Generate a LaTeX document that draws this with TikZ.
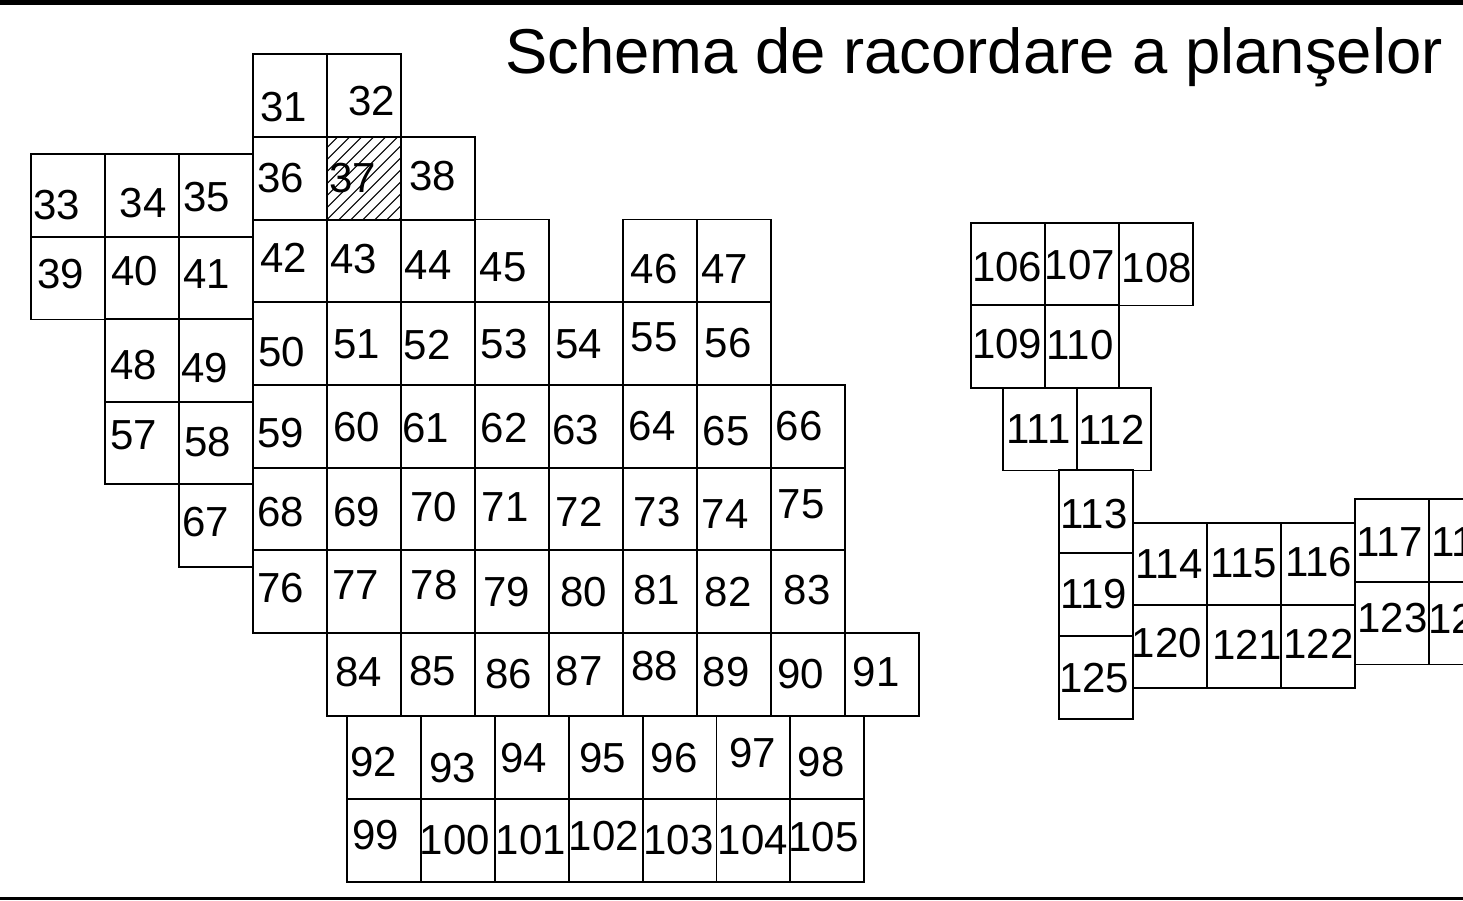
\documentclass[tikz,border=0pt]{standalone}
\usepackage{fontspec}
\setmainfont{Liberation Sans}
\newcommand\plansa[5]{%
  \node[cellbox] (c#1) at (#2,#3) {};
  \node[numtxt] (n#1) at (#4,#5) {#1};}
\begin{document}
\begin{tikzpicture}[x=1pt,y=-1pt,
  cellbox/.style={draw, line width=1.8pt, anchor=north west, minimum width=74pt,
    minimum height=82.7pt, inner sep=0pt, outer sep=0pt},
  numtxt/.style={inner sep=0pt, font=\fontsize{42}{42}\selectfont},
  titletxt/.style={inner sep=0pt, font=\fontsize{63.4}{64}\selectfont},
  rule/.style={line width=#1}]
\useasboundingbox (0,0) rectangle (1463,900);
\clip (0,0) rectangle (1463,900);
% frame lines
\coordinate (tl) at (0,2.5); \coordinate (tr) at (1463,2.5);
\coordinate (bl) at (0,898.5); \coordinate (br) at (1463,898.5);
\draw[rule=5pt] (tl) -- (tr);
\draw[rule=2.5pt] (bl) -- (br);
% title
\node[titletxt, anchor=base west] (title) at (505,73) {Schema de racordare a planşelor};
% ---- left group ----
\plansa{31}{253}{54}{284}{106.7}
\plansa{32}{327}{54}{372}{101.3}
\plansa{36}{253}{137}{281}{178}
\plansa{37}{327}{137}{353}{178}
\plansa{38}{401}{137}{433}{176}
\plansa{33}{31}{154}{57}{205}
\plansa{34}{105}{154}{143.3}{203}
\plansa{35}{179}{154}{207}{197}
\plansa{39}{31}{236.7}{60.5}{274}
\plansa{40}{105}{236.7}{135}{271}
\plansa{41}{179}{236.7}{206.5}{274.5}
\plansa{42}{253}{219.5}{284}{258}
\plansa{43}{327}{219.5}{353.5}{259}
\plansa{44}{401}{219.5}{428}{265}
\plansa{45}{475}{219.5}{503}{267.5}
\plansa{46}{623}{219.5}{654}{269}
\plansa{47}{697}{219.5}{724.5}{269}
\plansa{48}{105}{319}{133.5}{365}
\plansa{49}{179}{319}{204.7}{368}
\plansa{50}{253}{302.3}{282}{351.7}
\plansa{51}{327}{302.3}{357}{344}
\plansa{52}{401}{302.3}{427}{345}
\plansa{53}{475}{302.3}{504}{344}
\plansa{54}{549}{302.3}{578.7}{344.7}
\plansa{55}{623}{302.3}{654}{337.5}
\plansa{56}{697}{302.3}{728}{343}
\plansa{57}{105}{401.5}{133.8}{435.7}
\plansa{58}{179}{401.5}{207.5}{441.7}
\plansa{59}{253}{385}{281}{433}
\plansa{60}{327}{385}{356.7}{427}
\plansa{61}{401}{385}{426}{428}
\plansa{62}{475}{385}{504}{428}
\plansa{63}{549}{385}{575.8}{430}
\plansa{64}{623}{385}{652}{426}
\plansa{65}{697}{385}{726}{431.5}
\plansa{66}{771}{385}{799}{426}
\plansa{67}{179}{484}{206}{522}
\plansa{68}{253}{467.5}{281}{512}
\plansa{69}{327}{467.5}{357}{511.7}
\plansa{70}{401}{467.5}{433.7}{506.7}
\plansa{71}{475}{467.5}{505}{507}
\plansa{72}{549}{467.5}{579}{511.7}
\plansa{73}{623}{467.5}{657}{511.7}
\plansa{74}{697}{467.5}{725}{514.5}
\plansa{75}{771}{467.5}{801}{504}
\plansa{76}{253}{550.3}{281}{588}
\plansa{77}{327}{550.3}{356}{585}
\plansa{78}{401}{550.3}{434}{584.7}
\plansa{79}{475}{550.3}{506.6}{591.7}
\plansa{80}{549}{550.3}{583.5}{591.7}
\plansa{81}{623}{550.3}{656.7}{590}
\plansa{82}{697}{550.3}{728}{591.7}
\plansa{83}{771}{550.3}{807}{590}
\plansa{84}{327}{633}{358.8}{671.7}
\plansa{85}{401}{633}{432.7}{671}
\plansa{86}{475}{633}{508.5}{674}
\plansa{87}{549}{633}{579}{671}
\plansa{88}{623}{633}{654.7}{666}
\plansa{89}{697}{633}{726}{672}
\plansa{90}{771}{633}{800.6}{674}
\plansa{91}{845}{633}{876}{671.7}
\plansa{92}{347}{716}{373.6}{761.7}
\plansa{93}{420.9}{716}{452.5}{768}
\plansa{94}{494.7}{716}{523.8}{758}
\plansa{95}{568.6}{716}{602.5}{758}
\plansa{96}{642.5}{716}{674}{758}
\plansa{97}{716.4}{716}{752.6}{753}
\plansa{98}{790.3}{716}{821}{761.7}
\plansa{99}{347}{799}{375.7}{834.7}
\plansa{100}{420.9}{799}{455}{840}
\plansa{101}{494.7}{799}{531}{840}
\plansa{102}{568.6}{799}{604}{836}
\plansa{103}{642.5}{799}{678.5}{840}
\plansa{104}{716.4}{799}{753}{840}
\plansa{105}{790.3}{799}{823.5}{836.7}
% ---- right group ----
\plansa{106}{971}{222.7}{1007.3}{266.7}
\plansa{107}{1044.7}{222.7}{1080}{265.5}
\plansa{108}{1119}{222.7}{1157}{267.7}
\plansa{109}{971}{305}{1007.3}{344}
\plansa{110}{1044.7}{305}{1080}{345}
\plansa{111}{1002.7}{387.7}{1038.5}{428.7}
\plansa{112}{1076.7}{387.7}{1111.5}{430}
\plansa{113}{1059}{470}{1094}{514.5}
\plansa{119}{1059}{552.7}{1093.5}{594}
\plansa{125}{1059}{636}{1094.2}{678}
\plansa{114}{1132.7}{522.7}{1169}{564}
\plansa{115}{1207}{522.7}{1243.5}{563.7}
\plansa{116}{1281}{522.7}{1318.5}{562}
\plansa{120}{1132.7}{605}{1167}{643}
\plansa{121}{1207}{605}{1247.2}{645}
\plansa{122}{1281}{605}{1318.5}{644}
\plansa{117}{1355}{499}{1389.5}{541.7}
\plansa{118}{1429}{499}{1464.5}{541.7}
\plansa{123}{1355}{581.7}{1392.5}{618.5}
\plansa{124}{1429}{581.7}{1463.5}{618.5}
% hatching of sheet 37
\begin{scope}
  \clip (c37.south west) rectangle (c37.north east);
  \foreach \s in {-84,-72,...,84}
    \draw[line width=1.1pt] ([xshift=\s pt]c37.south west) -- ++(90,-90);
\end{scope}
\end{tikzpicture}
\end{document}
